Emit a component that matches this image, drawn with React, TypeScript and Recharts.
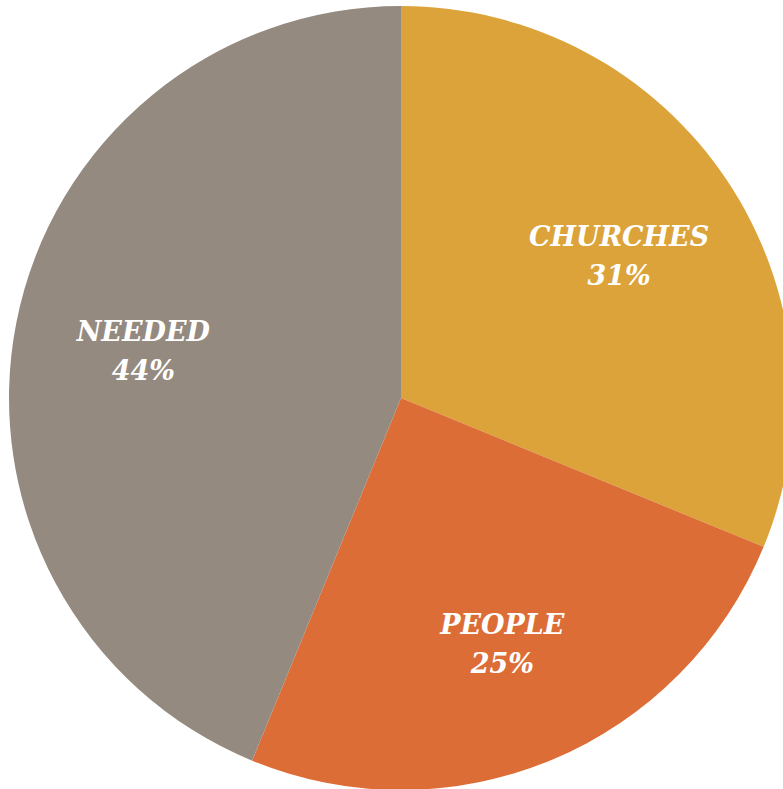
import { PieChart, Pie, Cell } from 'recharts';

const categories = ['CHURCHES', 'PEOPLE', 'NEEDED'];
const shares = [31.2, 25, 43.8];
const colors = ['#DBA339', '#DD6D36', '#948A80'];

const data = categories.map((name, i) => ({ name, value: shares[i] }));

const RADIAN = Math.PI / 180;

function renderLabel(props: any) {
  const { cx, cy, midAngle, outerRadius, name, value } = props;
  const r = outerRadius * 0.67;
  const x = cx + r * Math.cos(-midAngle * RADIAN);
  const y = cy + r * Math.sin(-midAngle * RADIAN);
  return (
    <text
      x={x}
      y={y}
      fill="#fff"
      textAnchor="middle"
      fontFamily="'DejaVu Serif', serif"
      fontWeight="bold"
      fontStyle="italic"
      fontSize={27}
    >
      <tspan x={x} dy={-6}>{name}</tspan>
      <tspan x={x} dy={39}>{Math.round(value)}%</tspan>
    </text>
  );
}

export default function App() {
  return (
    <div style={{ position: 'absolute', left: 0, top: 0, width: 783, height: 789 }}>
      <PieChart width={783} height={789} margin={{ top: 0, right: 0, bottom: 0, left: 0 }}>
        <Pie
          data={data}
          dataKey="value"
          nameKey="name"
          cx={401}
          cy={398}
          outerRadius={392}
          startAngle={90}
          endAngle={-270}
          stroke="none"
          label={renderLabel}
          labelLine={false}
          isAnimationActive={false}
        >
          {data.map((d, i) => (
            <Cell key={d.name} fill={colors[i]} />
          ))}
        </Pie>
      </PieChart>
    </div>
  );
}
